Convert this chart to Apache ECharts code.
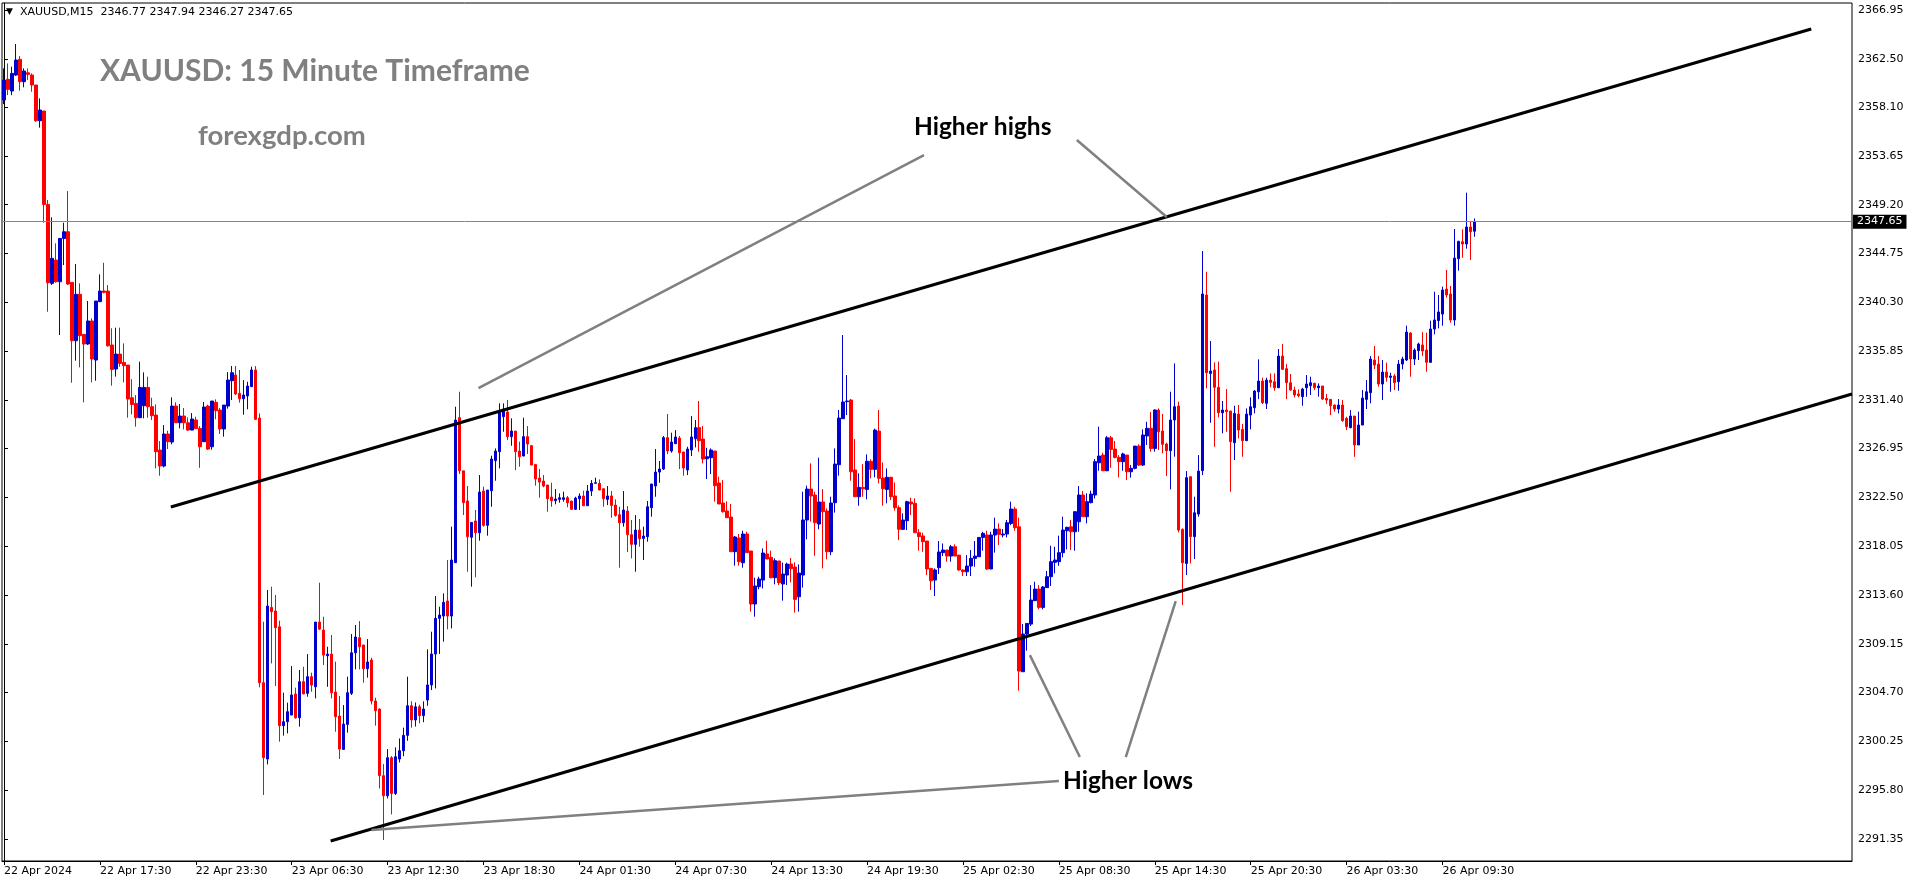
<!DOCTYPE html>
<html><head><meta charset="utf-8">
<script src="https://cdn.jsdelivr.net/npm/echarts@6/dist/echarts.min.js"></script>
<style>html,body{margin:0;padding:0;background:#fff}#c{width:1916px;height:884px}</style>
</head><body><div id="c"></div>
<script>
const opens=[
2358.74,2360.63,2359.56,2361.02,2362.45,2360.41,2361.23,2361.02,2360.11,2356.85,
2357.74,2349.22,2342.02,2344.15,2342.17,2346.12,2346.73,2342.11,2336.79,2341.02,
2337.37,2336.49,2338.59,2335.03,2340.35,2341.32,2341.32,2336.40,2334.21,2335.57,
2334.81,2334.57,2331.59,2331.07,2329.77,2330.86,2332.53,2330.77,2330.01,2326.82,
2325.36,2328.28,2327.55,2330.83,2329.31,2329.92,2329.31,2328.64,2329.56,2328.80,
2327.58,2330.83,2327.12,2331.17,2330.47,2328.74,2330.83,2333.14,2333.66,2331.99,
2331.50,2331.75,2332.60,2334.12,2329.74,2305.60,2298.64,2312.47,2312.14,2310.70,
2301.68,2302.04,2302.65,2304.57,2302.40,2305.69,2304.63,2306.15,2305.23,2311.13,
2310.40,2308.06,2308.21,2304.75,2302.56,2299.52,2301.80,2304.63,2308.33,2309.70,
2309.04,2306.88,2307.67,2303.93,2303.20,2297.12,2295.29,2298.76,2295.50,2298.64,
2299.40,2300.80,2303.50,2302.20,2303.40,2302.60,2304.02,2305.39,2308.22,2311.47,
2311.68,2313.05,2311.68,2316.55,2329.77,2324.92,2322.17,2318.86,2320.35,2319.28,
2323.08,2319.95,2323.11,2325.85,2326.67,2329.86,2330.29,2328.04,2328.55,2326.73,
2326.27,2328.04,2327.22,2325.51,2324.27,2323.99,2323.63,2322.53,2322.20,2322.32,
2322.32,2322.47,2322.17,2321.41,2322.38,2322.63,2321.74,2323.08,2323.78,2323.78,
2323.29,2322.32,2322.63,2321.80,2320.92,2320.19,2321.26,2319.10,2318.22,2319.52,
2318.76,2318.92,2321.56,2323.54,2324.81,2325.09,2327.95,2326.73,2327.40,2327.91,
2326.64,2325.00,2326.82,2327.85,2328.86,2327.82,2326.03,2326.12,2326.73,2323.81,
2321.99,2321.26,2320.71,2317.55,2318.80,2316.54,2319.16,2317.61,2312.78,2314.36,
2314.96,2317.34,2317.03,2315.18,2316.70,2314.60,2315.42,2316.42,2316.15,2313.44,
2315.42,2320.44,2323.26,2322.72,2320.07,2322.08,2321.26,2317.55,2322.02,2325.48,
2329.68,2331.23,2331.38,2325.00,2322.56,2323.41,2323.23,2325.79,2325.06,2328.55,
2324.27,2323.23,2324.33,2322.63,2321.56,2319.59,2320.38,2322.08,2321.96,2319.28,
2318.98,2318.52,2316.03,2314.96,2316.09,2317.46,2317.70,2317.15,2318.00,2317.24,
2315.88,2315.72,2316.24,2316.94,2317.09,2318.85,2319.07,2315.97,2319.07,2319.61,
2319.07,2319.16,2320.13,2321.44,2319.82,2306.60,2310.04,2310.95,2313.08,2314.14,
2312.47,2314.27,2315.27,2316.58,2316.64,2317.46,2319.46,2319.82,2319.37,2320.28,
2322.72,2320.74,2322.02,2322.72,2325.66,2326.36,2324.93,2327.94,2326.91,2326.15,
2325.76,2326.36,2324.84,2325.15,2327.18,2325.45,2328.10,2328.80,2326.97,2330.47,
2328.55,2327.37,2326.76,2329.56,2330.83,2319.58,2316.48,2324.39,2318.92,2320.98,
2324.94,2340.96,2333.81,2334.12,2332.54,2330.22,2330.47,2330.38,2327.49,2330.10,
2328.70,2327.67,2330.01,2330.68,2332.14,2333.11,2331.08,2333.20,2333.05,2332.50,
2335.39,2334.24,2332.96,2332.29,2331.93,2331.68,2332.50,2332.69,2332.90,2332.50,
2332.66,2331.53,2331.44,2330.92,2330.56,2330.92,2329.71,2328.86,2329.92,2327.28,
2329.10,2331.44,2332.05,2335.03,2334.66,2332.84,2333.93,2333.45,2333.57,2333.05,
2334.66,2335.03,2337.49,2335.12,2335.88,2336.40,2335.94,2334.82,2337.86,2338.62,
2339.22,2341.50,2341.05,2338.68,2344.27,2345.82,2345.61,2347.16,2346.77];
const closes=[
2360.56,2359.71,2361.17,2362.39,2360.41,2361.39,2361.08,2360.11,2356.85,2357.83,
2349.22,2342.08,2344.30,2342.17,2346.12,2346.73,2341.96,2336.79,2341.02,2337.25,
2336.49,2338.59,2335.12,2340.41,2341.32,2341.20,2336.33,2334.17,2335.57,2334.72,
2334.51,2331.47,2330.98,2329.77,2332.53,2332.53,2330.77,2329.95,2326.67,2325.36,
2328.28,2327.58,2330.83,2329.31,2329.92,2329.31,2328.64,2329.65,2328.77,2327.12,
2330.74,2326.91,2331.29,2330.41,2328.74,2330.92,2333.20,2333.87,2331.93,2331.50,
2331.84,2332.66,2334.12,2329.62,2305.60,2298.76,2312.59,2312.08,2310.62,2301.68,
2302.04,2302.96,2304.48,2302.40,2305.69,2304.57,2306.15,2305.38,2311.13,2310.49,
2308.12,2308.21,2304.69,2302.50,2299.55,2301.83,2304.69,2308.33,2309.77,2308.88,
2306.88,2307.49,2303.93,2303.05,2297.12,2295.29,2298.76,2295.50,2298.85,2299.40,
2300.80,2303.50,2302.20,2303.40,2302.60,2303.20,2305.39,2308.22,2311.47,2311.77,
2312.93,2311.68,2316.79,2329.56,2324.93,2322.02,2318.92,2320.22,2319.28,2322.99,
2319.95,2323.17,2326.00,2326.73,2330.25,2330.53,2328.04,2328.55,2326.67,2326.21,
2328.04,2327.37,2325.45,2324.18,2323.90,2323.54,2322.38,2322.20,2322.35,2322.47,
2322.47,2322.02,2321.41,2322.44,2322.63,2321.74,2323.08,2323.78,2323.84,2323.17,
2322.38,2322.63,2321.77,2320.86,2320.19,2321.35,2319.10,2318.22,2319.52,2318.73,
2318.98,2321.65,2323.72,2324.81,2325.09,2327.95,2326.73,2327.55,2328.01,2326.58,
2325.18,2326.91,2328.01,2328.86,2327.67,2326.00,2326.21,2326.82,2323.57,2321.90,
2321.20,2320.65,2317.55,2318.89,2316.64,2319.16,2317.46,2312.78,2314.42,2315.06,
2317.43,2316.88,2315.18,2316.73,2314.72,2315.51,2316.42,2316.00,2313.20,2315.60,
2320.44,2323.26,2322.63,2320.19,2322.08,2321.20,2317.55,2321.99,2325.54,2329.74,
2331.20,2331.29,2324.84,2322.56,2323.41,2323.29,2325.79,2325.06,2328.64,2324.24,
2323.29,2324.33,2322.56,2321.56,2319.59,2320.44,2322.11,2321.90,2319.28,2318.92,
2318.46,2315.97,2314.90,2315.88,2317.52,2317.70,2317.15,2318.00,2317.15,2315.88,
2315.72,2316.24,2316.94,2317.15,2318.85,2319.22,2315.97,2319.07,2319.61,2319.13,
2319.16,2320.19,2321.44,2319.74,2306.66,2310.04,2311.01,2313.14,2314.14,2312.47,
2314.33,2315.27,2316.64,2316.79,2317.46,2319.52,2319.77,2319.37,2321.20,2322.72,
2320.74,2322.11,2322.80,2325.76,2326.27,2324.93,2327.94,2326.88,2326.15,2325.76,
2326.46,2324.84,2325.15,2327.18,2325.45,2328.19,2328.80,2326.97,2330.47,2328.49,
2327.34,2326.76,2329.56,2330.77,2319.52,2316.54,2324.30,2318.92,2321.10,2324.90,
2341.05,2333.87,2334.02,2332.54,2330.22,2330.47,2330.32,2327.58,2330.16,2328.64,
2327.67,2330.10,2330.77,2332.20,2333.11,2331.14,2333.20,2332.99,2332.50,2335.39,
2334.18,2332.96,2332.29,2331.84,2331.78,2332.38,2332.84,2332.96,2332.50,2332.66,
2331.47,2331.38,2330.86,2330.56,2330.92,2329.50,2328.95,2329.92,2327.28,2329.10,
2331.56,2332.14,2335.12,2334.57,2332.84,2333.93,2333.45,2333.57,2332.96,2334.66,
2335.12,2337.58,2335.12,2335.94,2336.49,2335.85,2334.82,2337.86,2338.68,2339.41,
2341.41,2340.96,2338.68,2344.33,2345.85,2345.61,2347.16,2346.73,2347.65];
const lows=[
2358.37,2359.19,2359.19,2360.93,2359.59,2359.90,2360.56,2359.50,2356.76,2356.22,
2347.55,2339.43,2341.87,2342.08,2337.31,2343.69,2341.87,2332.96,2334.97,2334.36,
2331.17,2336.40,2332.99,2333.14,2340.35,2341.11,2336.24,2332.69,2333.51,2334.42,
2332.99,2329.77,2330.07,2328.95,2329.77,2329.71,2329.77,2329.56,2325.15,2324.48,
2325.24,2326.91,2327.34,2329.31,2328.80,2328.70,2328.55,2328.64,2328.77,2325.20,
2327.58,2326.82,2326.85,2329.62,2328.28,2328.04,2330.59,2331.38,2331.84,2331.14,
2330.04,2330.53,2332.60,2329.56,2305.18,2295.36,2298.15,2307.36,2305.30,2300.22,
2300.77,2300.98,2302.65,2302.32,2301.59,2304.57,2304.32,2304.78,2304.17,2310.40,
2307.21,2305.23,2304.17,2301.13,2298.64,2299.52,2301.04,2304.48,2306.82,2306.82,
2305.60,2306.06,2303.62,2301.68,2295.96,2291.25,2295.05,2293.59,2295.36,2298.33,
2298.90,2300.30,2301.50,2301.60,2301.90,2302.00,2303.50,2304.93,2305.08,2308.22,
2309.34,2310.47,2310.56,2316.55,2324.63,2320.89,2315.72,2314.36,2315.21,2318.55,
2319.83,2319.01,2321.65,2324.02,2325.15,2328.49,2327.73,2327.21,2324.99,2325.30,
2326.27,2326.46,2325.45,2323.57,2322.47,2323.42,2321.20,2321.65,2321.87,2322.02,
2322.11,2321.60,2321.35,2321.35,2321.35,2321.72,2321.74,2322.63,2323.78,2323.17,
2321.65,2321.80,2320.65,2320.74,2316.09,2319.83,2317.52,2316.94,2315.72,2318.00,
2316.79,2318.46,2320.74,2322.56,2323.84,2325.00,2326.45,2326.58,2327.37,2325.09,
2324.48,2324.54,2326.27,2327.06,2326.67,2325.60,2324.18,2324.63,2322.11,2321.90,
2321.11,2320.65,2317.55,2316.27,2316.27,2316.09,2317.46,2312.08,2311.62,2314.12,
2314.20,2316.88,2315.12,2314.57,2314.51,2313.08,2314.51,2314.75,2311.99,2312.08,
2314.27,2318.68,2320.28,2317.18,2319.59,2316.03,2316.85,2317.24,2321.11,2324.48,
2329.68,2330.01,2324.02,2322.56,2321.74,2322.56,2322.32,2324.24,2324.33,2323.78,
2321.74,2321.96,2322.26,2321.29,2318.61,2319.52,2319.52,2320.89,2319.28,2317.64,
2317.54,2315.42,2314.05,2313.50,2315.51,2317.15,2316.64,2316.64,2317.15,2315.81,
2315.33,2315.33,2315.33,2316.18,2317.09,2317.64,2315.88,2315.97,2317.46,2318.16,
2318.85,2318.85,2319.98,2319.46,2304.87,2306.60,2308.52,2310.77,2313.08,2312.29,
2312.29,2314.27,2314.42,2315.57,2316.27,2317.03,2317.76,2317.70,2317.64,2319.37,
2320.74,2320.13,2321.96,2322.41,2324.93,2324.93,2324.90,2325.20,2326.06,2324.33,
2324.93,2324.08,2324.30,2325.06,2325.36,2325.36,2327.28,2326.67,2326.67,2326.82,
2326.52,2324.45,2323.23,2326.21,2319.31,2312.68,2315.42,2316.48,2316.88,2320.74,
2324.54,2332.44,2329.31,2327.12,2329.80,2328.34,2328.49,2323.02,2325.91,2327.88,
2326.21,2327.67,2328.70,2330.16,2331.47,2331.02,2330.56,2332.54,2332.23,2332.50,
2334.12,2331.47,2332.23,2331.62,2331.62,2330.86,2331.68,2331.84,2332.29,2331.68,
2331.38,2331.02,2330.01,2330.32,2330.16,2329.40,2328.64,2328.80,2326.20,2327.28,
2329.10,2330.56,2331.08,2334.21,2332.60,2331.38,2333.05,2332.14,2332.29,2332.23,
2334.18,2334.94,2333.51,2334.57,2335.03,2335.39,2333.96,2334.79,2337.37,2337.92,
2338.16,2340.71,2338.43,2338.16,2343.18,2344.36,2345.18,2344.15,2346.27];
const highs=[
2361.63,2362.08,2361.78,2363.85,2362.75,2361.63,2361.63,2361.17,2360.11,2358.89,
2357.74,2349.62,2348.04,2345.67,2346.12,2347.55,2350.44,2342.11,2343.78,2342.02,
2337.37,2340.41,2338.83,2340.41,2342.84,2343.90,2341.87,2337.92,2337.98,2337.98,
2336.55,2334.57,2333.29,2331.83,2334.88,2333.90,2333.51,2331.59,2330.98,2327.64,
2329.10,2328.58,2331.62,2331.17,2331.02,2330.65,2329.80,2330.19,2329.86,2329.01,
2331.20,2330.95,2331.29,2331.44,2330.65,2330.92,2333.93,2334.48,2334.48,2334.12,
2333.20,2333.05,2334.42,2334.48,2330.16,2311.16,2314.05,2314.36,2313.60,2311.26,
2304.69,2303.78,2307.12,2305.15,2306.76,2307.06,2308.21,2306.51,2311.13,2314.72,
2311.62,2308.88,2309.95,2307.52,2304.39,2303.56,2306.15,2310.04,2310.86,2311.22,
2309.04,2309.58,2307.88,2304.23,2303.26,2298.18,2299.55,2298.91,2299.70,2300.52,
2301.50,2306.15,2303.90,2303.80,2303.60,2303.90,2308.64,2310.25,2313.50,2312.53,
2313.75,2316.79,2319.83,2330.77,2332.14,2324.92,2323.54,2320.22,2321.35,2324.54,
2323.48,2323.17,2326.30,2326.97,2331.08,2331.08,2331.38,2329.71,2328.55,2327.58,
2329.77,2329.01,2327.28,2325.51,2325.09,2324.54,2323.63,2323.84,2323.26,2322.87,
2323.02,2322.63,2322.17,2322.56,2322.87,2323.11,2323.63,2324.08,2324.30,2324.14,
2323.29,2323.54,2323.08,2322.32,2321.65,2323.08,2321.71,2320.44,2320.89,2320.53,
2319.83,2322.17,2323.72,2326.91,2325.82,2328.10,2330.10,2328.40,2328.64,2328.10,
2326.64,2327.12,2329.92,2329.56,2331.29,2329.01,2327.03,2326.97,2326.73,2324.39,
2324.08,2322.14,2321.90,2318.98,2319.16,2319.46,2319.37,2317.61,2315.18,2315.27,
2317.85,2318.55,2317.64,2316.94,2316.70,2316.55,2316.55,2316.97,2316.58,2316.39,
2323.02,2323.57,2325.60,2323.02,2326.12,2323.26,2321.50,2322.56,2326.97,2330.47,
2337.31,2333.66,2331.47,2327.82,2324.69,2325.54,2326.42,2325.97,2328.77,2330.47,
2325.70,2325.15,2324.39,2323.87,2321.77,2321.04,2322.20,2322.47,2322.41,2319.61,
2319.28,2318.52,2316.03,2316.03,2318.52,2318.30,2317.70,2318.16,2318.22,2317.24,
2315.94,2317.24,2317.70,2318.52,2318.85,2319.37,2319.46,2319.37,2320.65,2320.13,
2319.61,2320.44,2322.11,2321.65,2320.65,2310.95,2311.01,2314.50,2314.81,2314.50,
2314.42,2315.79,2318.09,2318.00,2319.01,2320.74,2319.82,2320.44,2321.20,2323.54,
2323.08,2322.87,2323.11,2326.00,2328.95,2326.58,2328.10,2328.10,2327.64,2326.36,
2326.58,2326.36,2325.45,2327.18,2327.34,2328.70,2329.40,2330.29,2330.53,2330.62,
2330.10,2327.49,2332.14,2334.72,2331.23,2319.68,2324.90,2324.39,2322.56,2326.36,
2344.97,2343.08,2336.76,2334.82,2334.88,2331.29,2332.38,2330.38,2330.86,2330.92,
2329.19,2330.62,2331.62,2332.29,2335.09,2333.42,2333.42,2333.81,2333.81,2336.03,
2336.49,2334.66,2333.75,2332.60,2332.35,2332.50,2333.66,2333.51,2332.96,2332.90,
2332.66,2331.93,2331.44,2330.98,2331.47,2331.38,2329.86,2330.47,2329.92,2330.32,
2332.29,2333.20,2335.39,2336.31,2335.39,2335.03,2334.79,2333.87,2333.75,2335.03,
2335.33,2338.16,2337.58,2336.09,2336.61,2337.58,2337.52,2338.62,2341.26,2340.96,
2341.72,2343.24,2341.78,2346.98,2345.91,2346.95,2350.29,2347.71,2347.94];

const timeLabels=['22 Apr 2024','22 Apr 17:30','22 Apr 23:30','23 Apr 06:30','23 Apr 12:30','23 Apr 18:30',
 '24 Apr 01:30','24 Apr 07:30','24 Apr 13:30','24 Apr 19:30','25 Apr 02:30','25 Apr 08:30','25 Apr 14:30',
 '25 Apr 20:30','26 Apr 03:30','26 Apr 09:30'];
const barsPerLabel=24;
const slotCount=463;
const priceTicks=[2366.95,2362.50,2358.10,2353.65,2349.20,2344.75,2340.30,2335.85,2331.40,2326.95,
 2322.50,2318.05,2313.60,2309.15,2304.70,2300.25,2295.80,2291.35];
const priceMin=2289.34, priceMax=2367.59;
const symbolName='XAUUSD,M15';
const lastPrice=closes[closes.length-1];

// drawn objects, in (bar index, price)
const upperChannel=[[41.75,2321.62],[452.3,2365.22]];
const lowerChannel=[[81.75,2291.16],[462.5,2331.93]];
const pointers=[
 [[118.75,2332.47],[230.25,2353.72]],
 [[268.5,2355.09],[291.0,2348.07]],
 [[92.0,2292.16],[264.0,2296.63]],
 [[256.75,2308.12],[269.25,2298.82]],
 [[293.25,2313.05],[280.75,2298.82]]
];

const cats=[]; for(let i=0;i<slotCount;i++) cats.push(String(i));
const candles=opens.map((o,i)=>[o,closes[i],lows[i],highs[i]]);
const n=opens.length-1;
const headerText=symbolName+'  '+[opens[n],highs[n],lows[n],closes[n]].map(v=>v.toFixed(2)).join(' ');
const isTick=(idx)=> idx%barsPerLabel===0 && idx/barsPerLabel<timeLabels.length;

function lineSeries(pts,color,width){
 return {type:'line',xAxisIndex:1,yAxisIndex:0,data:pts,symbol:'none',silent:true,z:5,
  lineStyle:{color:color,width:width},animation:false};
}

const chart=echarts.init(document.getElementById('c'),null,{renderer:'canvas'});
const series=[{
 type:'candlestick',xAxisIndex:0,yAxisIndex:0,data:candles,barWidth:3,
 itemStyle:{color:'#0000CD',color0:'#FF0000',borderColor:'#0000CD',borderColor0:'#FF0000',borderWidth:1},
 markLine:{silent:true,symbol:'none',animation:false,
  lineStyle:{color:'#778899',width:1,type:'solid'},
  label:{show:true,position:'end',distance:1,formatter:()=>lastPrice.toFixed(2),
   backgroundColor:'#000',color:'#fff',padding:[2,4,1,4],fontFamily:'DejaVu Sans',fontSize:11},
  data:[{yAxis:lastPrice}]},
 z:2
}];
series.push(lineSeries(upperChannel,'#000',3));
series.push(lineSeries(lowerChannel,'#000',3));
pointers.forEach(p=>series.push(lineSeries(p,'#808080',2.5)));

chart.setOption({
 animation:false,
 backgroundColor:'#fff',
 grid:{left:2,top:3,right:64,bottom:23,show:true,borderColor:'#000',borderWidth:1},
 xAxis:[{type:'category',data:cats,boundaryGap:true,
   axisLine:{show:true,lineStyle:{color:'#000'}},
   axisTick:{show:true,interval:(i)=>isTick(i),alignWithLabel:true,length:4,lineStyle:{color:'#000'}},
   axisLabel:{show:true,interval:(i)=>isTick(i),formatter:(v,i)=>timeLabels[Math.round(i/barsPerLabel)]||'',
     align:'left',margin:5,color:'#000',fontFamily:'DejaVu Sans',fontSize:11,hideOverlap:false},
   splitLine:{show:false}},
  {type:'value',min:-0.5,max:slotCount-0.5,show:false}],
 yAxis:[{type:'value',position:'right',min:priceMin,max:priceMax,scale:true,
   axisLine:{show:true,lineStyle:{color:'#000'}},
   axisTick:{show:true,customValues:priceTicks,length:4,lineStyle:{color:'#000'}},
   axisLabel:{show:true,customValues:priceTicks,formatter:(v)=>Number(v).toFixed(2),margin:6,
     color:'#000',fontFamily:'DejaVu Sans',fontSize:11},
   splitLine:{show:false}}],
 series:series,
 graphic:[
  {type:'text',x:6,y:12,style:{text:'▼',fill:'#000',font:'9px DejaVu Sans',verticalAlign:'middle',textVerticalAlign:'middle'}},
  {type:'text',x:20,y:12,style:{text:headerText,fill:'#000',font:'11px DejaVu Sans',verticalAlign:'middle',textVerticalAlign:'middle'}},
  {type:'text',x:100,y:71,style:{text:'XAUUSD: 15 Minute Timeframe',fill:'#808080',font:'bold 30px Lato',verticalAlign:'middle',textVerticalAlign:'middle'}},
  {type:'text',x:198,y:136,style:{text:'forexgdp.com',fill:'#808080',font:'bold 27.5px Lato',verticalAlign:'middle',textVerticalAlign:'middle'}},
  {type:'text',x:914,y:127,style:{text:'Higher highs',fill:'#000',font:'bold 24.5px Lato',verticalAlign:'middle',textVerticalAlign:'middle'}},
  {type:'text',x:1063,y:781,style:{text:'Higher lows',fill:'#000',font:'bold 24.5px Lato',verticalAlign:'middle',textVerticalAlign:'middle'}}
 ]
});
</script></body></html>
